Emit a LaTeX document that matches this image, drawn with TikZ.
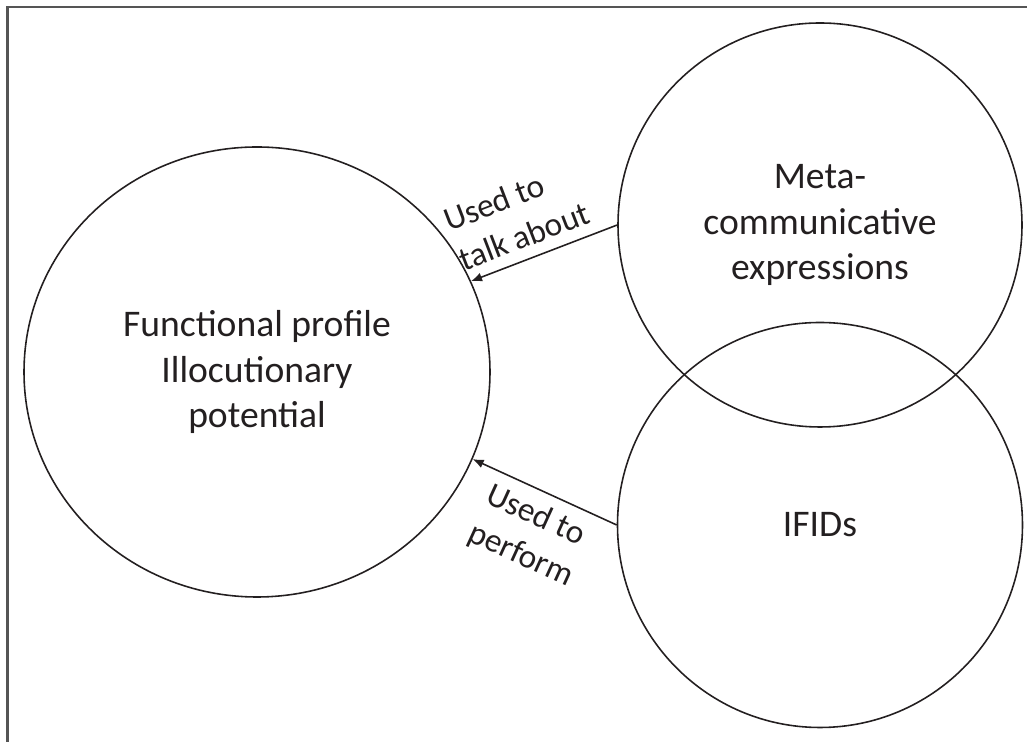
\documentclass[tikz,border=0pt]{standalone}
\usepackage{fontspec}
\setmainfont{Carlito}
\usepackage{xcolor}
\usetikzlibrary{arrows.meta,shapes.geometric}
\definecolor{ink}{HTML}{231F20}
\definecolor{rule}{HTML}{555555}
\tikzset{
  frame/.style={line width=0.6pt, draw=rule},
  bubble/.style={circle, draw=ink, line width=0.45pt, inner sep=0pt, text=ink, align=center, font=\fontsize{10.7}{12.9}\selectfont},
  bigbubble/.style={bubble, ellipse},
  link/.style={-{Latex[length=1.1mm,width=0.9mm]}, line width=0.45pt, draw=ink},
  lab/.style={text=ink, align=left, font=\fontsize{9.5}{12}\selectfont, sloped}
}

\begin{document}
\begin{tikzpicture}
  \useasboundingbox (0,0) rectangle (10.27,7.42);
  % frame
  \draw[frame] (0.075,0) -- (0.075,7.35) -- (10.27,7.35);

  % bubbles
  \node[bigbubble, minimum width=4.66cm, minimum height=4.50cm] (func) at (2.57,3.70) {Functional profile\\Illocutionary\\potential};
  \node[bubble, minimum size=4.04cm] (meta) at (8.20,5.17) {Meta-\\communicative\\expressions};
  \node[bubble, minimum size=4.05cm] (ifid) at (8.20,2.17) {IFIDs};

  % links
  \draw[link] (meta.west) -- (func.23) node[lab, pos=0.58, above, inner sep=3pt] {Used to\\talk about};
  \draw[link] (ifid.west) -- (func.-22) node[lab, pos=0.47, below, inner sep=3pt] {Used to\\perform};
\end{tikzpicture}
\end{document}
